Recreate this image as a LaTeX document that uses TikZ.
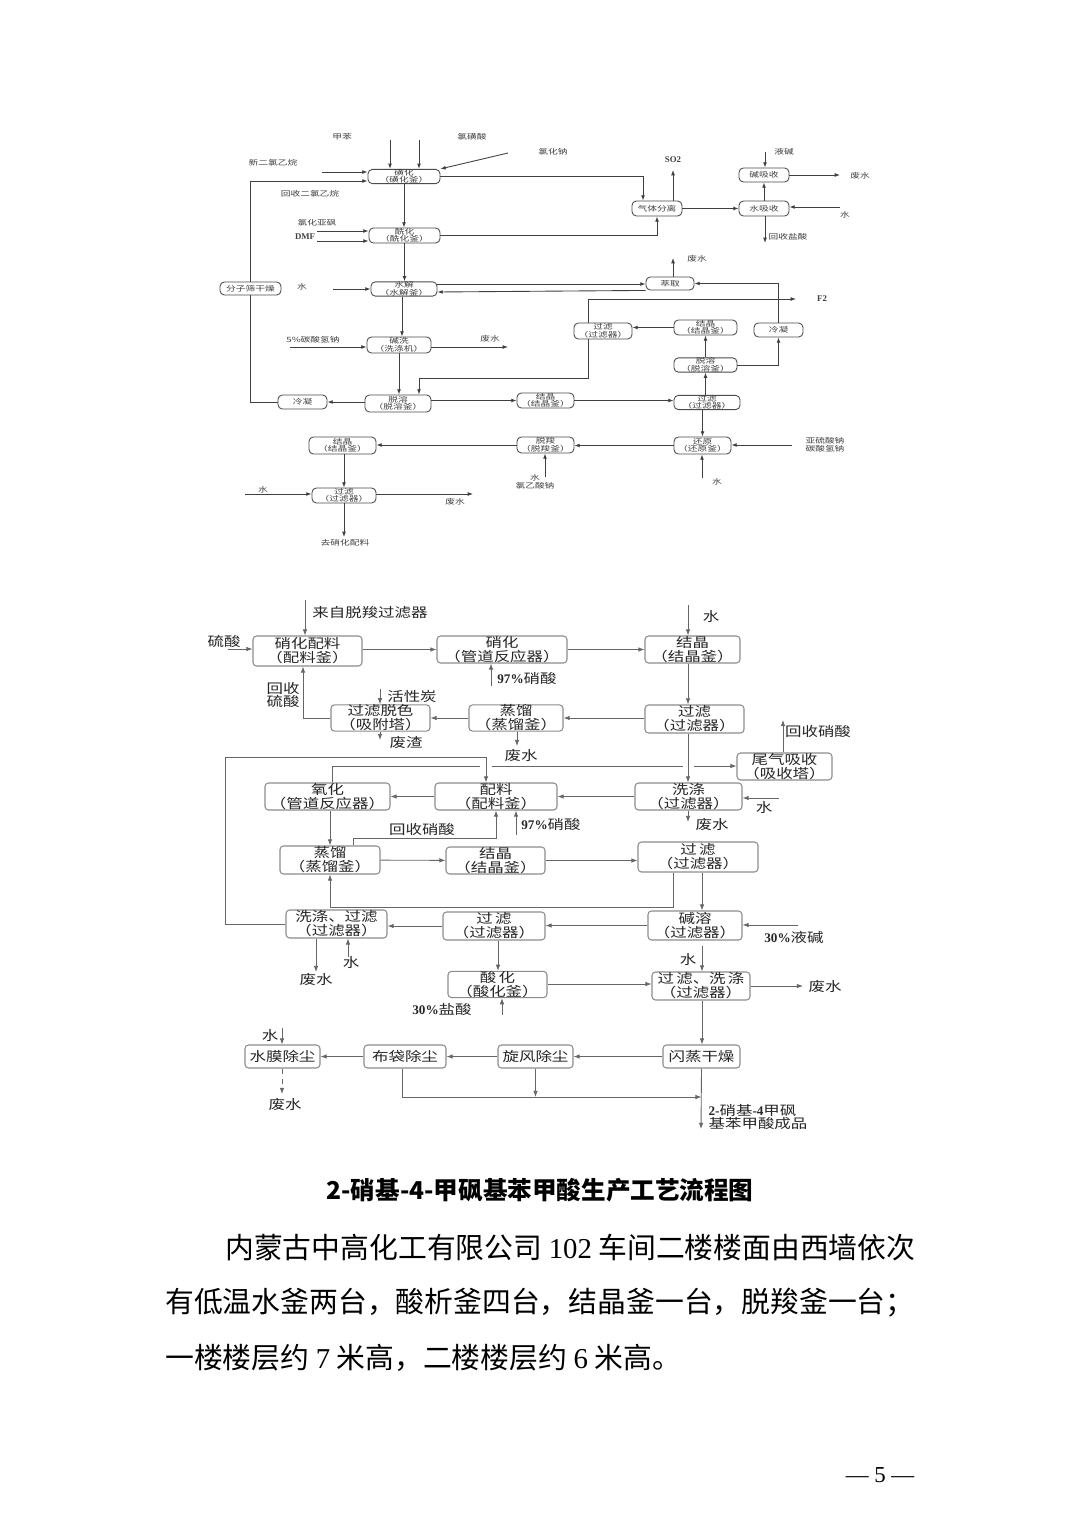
\documentclass[tikz,border=0pt]{standalone}
\usepackage{fontspec}
\usepackage{tikz}
\usetikzlibrary{arrows.meta}
\setmainfont{Noto Sans CJK SC}
\newfontfamily\fwide{Noto Sans CJK SC}[FakeStretch=1.25]
\newfontfamily\ftiny{Noto Sans CJK SC}[FakeStretch=1.35]
\newfontfamily\fnum{Liberation Serif}
\newcommand{\ttxt}{\ftiny\fontsize{4.1}{4.3}\selectfont}
\newcommand{\ptxt}{\fwide\fontsize{7.5}{7.9}\selectfont}
\newcommand{\pnum}{\fnum\bfseries}
\newcommand{\tnum}{\fnum\bfseries\fontsize{5}{5}\selectfont}
\newcommand{\fcap}{\bfseries\fontsize{14}{14}\selectfont}
\newcommand{\fbodytxt}{\fontsize{16.4}{16.4}\selectfont}
\tikzset{
  wh/.style 2 args={minimum width=#1*0.02cm,minimum height=#2*0.02cm},
  tbox/.style={draw=black!70,rounded corners=2.5pt,line width=0.5pt,inner sep=0pt,align=center,font=\ttxt,text=black!75},
  tlab/.style={inner sep=0pt,align=center,font=\ttxt,text=black!75},
  tarr/.style={-{Latex[length=3pt,width=2.2pt]},line width=0.5pt,draw=black!75},
  tln/.style={line width=0.5pt,draw=black!75},
  pbox/.style={draw=black!45,rounded corners=2pt,line width=0.6pt,inner sep=0pt,align=center,font=\ptxt,text=black!85},
  plab/.style={inner sep=0pt,align=center,font=\ptxt,text=black!85},
  parr/.style={-{Latex[length=3.5pt,width=2.6pt]},line width=0.5pt,draw=black!60}
}
\begin{document}
\begin{tikzpicture}[x=0.02cm,y=-0.02cm]
  \useasboundingbox (0,0) rectangle (1080,1527);
  \fill[white] (0,0) rectangle (1080,1527);

  % upper chart
  \node[tbox,wh={72}{13}] (sulf) at (404,176.5) {磺化\\（磺化釜）};
  \node[tbox,wh={71}{15}] (acyl) at (404.5,235.5) {酰化\\（酰化釜）};
  \node[tbox,wh={50}{15}] (gassep) at (657,208.5) {气体分离};
  \node[tbox,wh={50}{14}] (alkabs) at (764,175) {碱吸收};
  \node[tbox,wh={50}{15}] (watabs) at (764,208.5) {水吸收};
  \node[tbox,wh={61}{13}] (sieve) at (250.5,288.5) {分子筛干燥};
  \node[tbox,wh={66}{14}] (hydro) at (404,289) {水解\\（水解釜）};
  \node[tbox,wh={48}{13}] (extr) at (670,283.5) {萃取};
  \node[tbox,wh={58}{16}] (filtA) at (603,331) {过滤\\（过滤器）};
  \node[tbox,wh={63}{15}] (crysA) at (705.5,327.5) {结晶\\（结晶釜）};
  \node[tbox,wh={49}{14}] (condR) at (778.5,330) {冷凝};
  \node[tbox,wh={63}{14}] (desolR) at (705.5,365) {脱溶\\（脱溶釜）};
  \node[tbox,wh={64}{16}] (wash) at (399,345) {碱洗\\（洗涤机）};
  \node[tbox,wh={66}{17}] (desolL) at (398,403.5) {脱溶\\（脱溶釜）};
  \node[tbox,wh={49}{14}] (condL) at (302.5,402) {冷凝};
  \node[tbox,wh={57}{15}] (crysB) at (545.5,400.5) {结晶\\（结晶釜）};
  \node[tbox,wh={66}{14}] (filtB) at (707,402.5) {过滤\\（过滤器）};
  \node[tbox,wh={57}{17}] (reduc) at (702.5,445.5) {还原\\（还原釜）};
  \node[tbox,wh={57}{16}] (decarb) at (545.5,445) {脱羧\\（脱羧釜）};
  \node[tbox,wh={67}{17}] (crysC) at (342.5,445.5) {结晶\\（结晶釜）};
  \node[tbox,wh={64}{15}] (filtC) at (344,495.5) {过滤\\（过滤器）};

  \node[tlab] (l_tol) at (342,137) {甲苯};
  \node[tlab] (l_csa) at (472,137) {氯磺酸};
  \node[tlab] (l_nacl) at (553,152) {氯化钠};
  \node[tlab] (l_newdce) at (273,163) {新二氯乙烷};
  \node[tlab] (l_recdce) at (310,194) {回收二氯乙烷};
  \node[tlab] (l_socl) at (317,223) {氯化亚砜};
  \node[tlab,font=\tnum] (l_dmf) at (305,237) {DMF};
  \node[tlab,font=\tnum] (l_so2) at (673,160) {SO2};
  \node[tlab] (l_lye) at (784,152) {液碱};
  \node[tlab] (l_ww1) at (860,176) {废水};
  \node[tlab] (l_w1) at (845,215) {水};
  \node[tlab] (l_hcl) at (788,237) {回收盐酸};
  \node[tlab] (l_ww2) at (697,259) {废水};
  \node[tlab,font=\tnum] (l_f2) at (822,299) {F2};
  \node[tlab] (l_w2) at (302,287) {水};
  \node[tlab] (l_nahco) at (313,340) {5\%碳酸氢钠};
  \node[tlab] (l_ww3) at (490,339) {废水};
  \node[tlab] (l_red) at (825,445) {亚硫酸钠\\碳酸氢钠};
  \node[tlab] (l_w3) at (717,482) {水};
  \node[tlab] (l_clac) at (535,482) {水\\氯乙酸钠};
  \node[tlab] (l_w4) at (263,490) {水};
  \node[tlab] (l_ww4) at (455,502) {废水};
  \node[tlab] (l_tonitr) at (345,543) {去硝化配料};

  \coordinate (c_tol) at (390,140);
  \coordinate (c_csa) at (419,140);
  \coordinate (c_nacl) at (508,153);
  \coordinate (c_newdce) at (322,172);
  \coordinate (c_socl) at (317,231);
  \coordinate (c_dmf) at (317,241);
  \coordinate (c_so2) at (673,170);
  \coordinate (c_lye) at (765,152);
  \coordinate (c_ww1) at (840,175);
  \coordinate (c_w1) at (840,207);
  \coordinate (c_hcl) at (765,243);
  \coordinate (c_ww2) at (673,258);
  \coordinate (c_f2) at (796,299);
  \coordinate (c_w2) at (333,289);
  \coordinate (c_nahco) at (290,347);
  \coordinate (c_ww3) at (508,347);
  \coordinate (c_red) at (792,445);
  \coordinate (c_w3) at (702,478);
  \coordinate (c_clac) at (545,477);
  \coordinate (c_w4) at (245,494);
  \coordinate (c_ww4) at (473,494);
  \coordinate (c_tonitr) at (344,537);

  \draw[tarr] (c_tol) -- (sulf.north -| c_tol);
  \draw[tarr] (c_csa) -- (sulf.north -| c_csa);
  \draw[tarr] (c_nacl) -- (sulf.north east);
  \draw[tarr] (c_newdce) -- (sulf.west |- c_newdce);
  \draw[tarr] (sieve.north) |- (sulf.west |- 0,181);
  \draw[tarr] (sulf.east) -- (sulf.east -| 643,0) -- (gassep.north -| 643,0);
  \draw[tarr] (sulf.south) -- (sulf.south |- acyl.north);
  \draw[tarr] (c_socl) -- (acyl.west |- c_socl);
  \draw[tarr] (c_dmf) -- (acyl.west |- c_dmf);
  \draw[tarr] (acyl.east) -| (gassep.south);
  \draw[tarr] (gassep.north -| c_so2) -- (c_so2);
  \draw[tarr] (gassep) -- (watabs);
  \draw[tarr] (c_lye) -- (alkabs.north -| c_lye);
  \draw[tarr] (alkabs.east) -- (c_ww1);
  \draw[tarr] (c_w1) -- (watabs.east |- c_w1);
  \draw[tarr] (watabs) -- (alkabs);
  \draw[tarr] (watabs.south -| c_hcl) -- (c_hcl);
  \draw[tarr] (acyl.south) -- (acyl.south |- hydro.north);
  \draw[tarr] (c_w2) -- (hydro.west |- c_w2);
  \draw[tarr] (hydro.east |- 0,284) -- (extr.west |- 0,284);
  \draw[tarr] (extr.south west) -- (hydro.east |- 0,292);
  \draw[tarr] (extr.north -| c_ww2) -- (c_ww2);
  \draw[tarr] (condR.north) |- (extr.east);
  \draw[tarr] (desolR.east) -| (condR.south);
  \draw[tarr] (desolR) -- (crysA);
  \draw[tarr] (crysA.west) -- (filtA.east |- crysA.west);
  \draw[tarr] (filtA.north -| 588,0) |- (c_f2);
  \draw[tarr] (filtA.south -| 588,0) |- (419,378) -- (desolL.north -| 419,0);
  \draw[tarr] (hydro.south -| 402,0) -- (wash.north -| 402,0);
  \draw[tarr] (c_nahco) -- (wash.west |- c_nahco);
  \draw[tarr] (wash.east |- c_ww3) -- (c_ww3);
  \draw[tarr] (wash.south) -- (wash.south |- desolL.north);
  \draw[tarr] (desolL.west |- condL.east) -- (condL.east);
  \draw[tln] (condL.west) -| (sieve.south);
  \draw[tarr] (desolL.east |- crysB.west) -- (crysB.west);
  \draw[tarr] (crysB.east) -- (filtB.west |- crysB.east);
  \draw[tarr] (filtB.north -| desolR.south) -- (desolR.south);
  \draw[tarr] (filtB.south -| reduc.north) -- (reduc.north);
  \draw[tarr] (c_red) -- (reduc.east |- c_red);
  \draw[tarr] (c_w3) -- (reduc.south -| c_w3);
  \draw[tarr] (reduc.west) -- (decarb.east |- reduc.west);
  \draw[tarr] (c_clac) -- (decarb.south -| c_clac);
  \draw[tarr] (decarb.west) -- (crysC.east |- decarb.west);
  \draw[tarr] (crysC.south -| filtC.north) -- (filtC.north);
  \draw[tarr] (c_w4) -- (filtC.west |- c_w4);
  \draw[tarr] (filtC.east |- c_ww4) -- (c_ww4);
  \draw[tarr] (filtC.south) -- (c_tonitr);

  % lower chart
  \node[pbox,wh={109}{30}] (nmix) at (307.5,651) {硝化配料\\（配料釜）};
  \node[pbox,wh={130}{27}] (nitr) at (502,649.5) {硝化\\（管道反应器）};
  \node[pbox,wh={95}{27}] (crys1) at (692.5,649.5) {结晶\\（结晶釜）};
  \node[pbox,wh={99}{26}] (decol) at (380.5,718) {过滤脱色\\（吸附塔）};
  \node[pbox,wh={94}{26}] (dist1) at (516,718) {蒸馏\\（蒸馏釜）};
  \node[pbox,wh={99}{28}] (filt1) at (694.5,719) {过滤\\（过滤器）};
  \node[pbox,wh={95}{27}] (tail) at (784.5,766.5) {尾气吸收\\（吸收塔）};
  \node[pbox,wh={125}{27}] (oxid) at (327.5,796.5) {氧化\\（管道反应器）};
  \node[pbox,wh={122}{27}] (mix2) at (496,796.5) {配料\\（配料釜）};
  \node[pbox,wh={107}{27}] (wash1) at (688.5,796.5) {洗涤\\（过滤器）};
  \node[pbox,wh={100}{28}] (dist2) at (330,860) {蒸馏\\（蒸馏釜）};
  \node[pbox,wh={99}{27}] (crys2) at (495.5,860.5) {结晶\\（结晶釜）};
  \node[pbox,wh={120}{30}] (filt2) at (698,857) {过\,滤\\（过滤器）};
  \node[pbox,wh={101}{28}] (wfilt) at (336.5,924) {洗涤、过滤\\（过滤器）};
  \node[pbox,wh={102}{28}] (filt3) at (494,926) {过\,滤\\（过滤器）};
  \node[pbox,wh={94}{29}] (alkd) at (695,925.5) {碱溶\\（过滤器）};
  \node[pbox,wh={99}{25}] (acid) at (497.5,984.5) {酸\,化\\（酸化釜）};
  \node[pbox,wh={98}{28}] (fwash) at (701,986) {过\,滤、洗\,涤\\（过滤器）};
  \node[pbox,wh={77}{23}] (flash) at (701.5,1056.5) {闪蒸干燥};
  \node[pbox,wh={75}{23}] (cyclo) at (535.5,1056.5) {旋风除尘};
  \node[pbox,wh={82}{23}] (bag) at (405,1056.5) {布袋除尘};
  \node[pbox,wh={75}{23}] (film) at (282.5,1056.5) {水膜除尘};

  \node[plab] (l_from) at (370,612) {来自脱羧过滤器};
  \node[plab] (l_h2so4) at (224,641) {硫酸};
  \node[plab] (l_w5) at (711,617) {水};
  \node[plab] (l_hno1) at (527,678) {{\pnum 97\%}硝酸};
  \node[plab] (l_rech2so4) at (283,695) {回收\\硫酸};
  \node[plab] (l_carbon) at (412,697) {活性炭};
  \node[plab] (l_slag) at (406,742) {废渣};
  \node[plab] (l_ww5) at (521,755) {废水};
  \node[plab] (l_rechno1) at (818,731) {回收硝酸};
  \node[plab] (l_w6) at (764,808) {水};
  \node[plab] (l_ww6) at (712,824) {废水};
  \node[plab] (l_hno2) at (551,824) {{\pnum 97\%}硝酸};
  \node[plab] (l_rechno2) at (422,829) {回收硝酸};
  \node[plab] (l_lye2) at (794,937) {{\pnum 30\%}液碱};
  \node[plab] (l_ww7) at (316,979) {废水};
  \node[plab] (l_w7) at (351,963) {水};
  \node[plab] (l_w8) at (688,960) {水};
  \node[plab] (l_ww8) at (825,986) {废水};
  \node[plab] (l_hcl2) at (442,1009) {{\pnum 30\%}盐酸};
  \node[plab] (l_w9) at (270,1036) {水};
  \node[plab] (l_ww9) at (285,1104) {废水};
  \node[plab,align=left] (l_prod) at (758,1117) {{\pnum 2-}硝基{\pnum -4}甲砜\\基苯甲酸成品};

  \coordinate (c_from) at (305,600);
  \coordinate (c_h2so4) at (228,649);
  \coordinate (c_w5) at (688,605);
  \coordinate (c_hno1) at (491,686);
  \coordinate (c_carbon) at (380,689);
  \coordinate (c_slag) at (380,740);
  \coordinate (c_ww5) at (517,746);
  \coordinate (c_rechno1) at (783,720);
  \coordinate (c_w6) at (779,798);
  \coordinate (c_ww6) at (688,822);
  \coordinate (c_hno2) at (516,835);
  \coordinate (c_lye2) at (798,925);
  \coordinate (c_ww7) at (316,972);
  \coordinate (c_w7) at (348,957);
  \coordinate (c_w8) at (702,946);
  \coordinate (c_ww8) at (803,986);
  \coordinate (c_hcl2) at (502,1015);
  \coordinate (c_w9) at (282,1028);
  \coordinate (c_ww9) at (282,1094);
  \coordinate (c_prod) at (701,1129);

  \draw[parr] (c_from) -- (nmix.north -| c_from);
  \draw[parr] (c_h2so4) -- (nmix.west |- c_h2so4);
  \draw[parr] (nmix.east |- nitr.west) -- (nitr.west);
  \draw[parr] (nitr) -- (crys1);
  \draw[parr] (c_w5) -- (crys1.north -| c_w5);
  \draw[parr] (c_hno1) -- (nitr.south -| c_hno1);
  \draw[parr] (crys1.south -| 688,0) -- (filt1.north -| 688,0);
  \draw[parr] (filt1.west |- dist1.east) -- (dist1.east);
  \draw[parr] (dist1.west) -- (decol.east);
  \draw[parr] (c_carbon) -- (decol.north -| c_carbon);
  \draw[parr] (decol.south -| c_slag) -- (c_slag);
  \draw[parr] (dist1.south -| c_ww5) -- (c_ww5);
  \draw[parr] (decol.west) -| (nmix.south -| 303,0);
  \draw[parr] (filt1.south -| 688,0) -- (wash1.north -| 688,0);
  \draw[parr] (tail.north -| c_rechno1) -- (c_rechno1);
  \draw[parr] (oxid.north -| 332,0) |- (480,766) (492,766) -- (683,766) (694,766) -- (tail.west |- 0,766);
  \draw[parr] (wfilt.west) -| (225,757) -| (mix2.north -| 486,0);
  \draw[parr] (c_w6) -- (wash1.east |- c_w6);
  \draw[parr] (wash1.south -| c_ww6) -- (c_ww6);
  \draw[parr] (wash1) -- (mix2);
  \draw[parr] (mix2) -- (oxid);
  \draw[parr] (c_hno2) -- (mix2.south -| c_hno2);
  \draw[parr] (oxid.south -| 330,0) -- (dist2.north -| 330,0);
  \draw[parr] (dist2.north -| 353,0) |- (mix2.south |- 0,838) -- (mix2.south);
  \draw[parr] (dist2) -- (crys2);
  \draw[parr] (crys2.east) -- (filt2.west |- crys2.east);
  \draw[parr] (filt2.south -| 673,0) |- (dist2.south |- 0,907) -- (dist2.south);
  \draw[parr] (filt2.south -| 702,0) -- (alkd.north -| 702,0);
  \draw[parr] (c_lye2) -- (alkd.east |- c_lye2);
  \draw[parr] (alkd.west) -- (filt3.east |- alkd.west);
  \draw[parr] (filt3.west) -- (wfilt.east |- filt3.west);
  \draw[parr] (wfilt.south -| c_ww7) -- (c_ww7);
  \draw[parr] (c_w7) -- (wfilt.south -| c_w7);
  \draw[parr] (filt3.south -| 498,0) -- (acid.north -| 498,0);
  \draw[parr] (c_w8) -- (fwash.north -| c_w8);
  \draw[parr] (acid.east |- 0,984) -- (fwash.west |- 0,984);
  \draw[parr] (fwash.east) -- (c_ww8);
  \draw[parr] (c_hcl2) -- (acid.south -| c_hcl2);
  \draw[parr] (fwash.south -| 702,0) -- (flash.north -| 702,0);
  \draw[parr] (flash) -- (cyclo);
  \draw[parr] (cyclo) -- (bag);
  \draw[parr] (bag) -- (film);
  \draw[parr] (c_w9) -- (film.north -| c_w9);
  \draw[parr,dashed] (film.south -| c_ww9) -- (c_ww9);
  \draw[parr] (bag.south -| 402,0) |- (flash.south |- 0,1097);
  \draw[parr] (cyclo.south) -- (cyclo.south |- 0,1097);
  \draw[parr] (flash.south) -- (c_prod);

  % caption and page text
  \node[font=\fcap,inner sep=0pt] (caption) at (540,1190) {2-硝基-4-甲砜基苯甲酸生产工艺流程图};
  \node[anchor=west,font=\fbodytxt,inner sep=0pt] (body1) at (225,1248) {内蒙古中高化工有限公司 {\fnum 102} 车间二楼楼面由西墙依次};
  \node[anchor=west,font=\fbodytxt,inner sep=0pt] (body2) at (165,1303) {有低温水釜两台，酸析釜四台，结晶釜一台，脱羧釜一台；};
  \node[anchor=west,font=\fbodytxt,inner sep=0pt] (body3) at (165,1358) {一楼楼层约 {\fnum 7} 米高，二楼楼层约 {\fnum 6} 米高。};
  \node[font=\fnum\fontsize{13}{13}\selectfont,inner sep=0pt] (pageno) at (880,1475) {— 5 —};
\end{tikzpicture}
\end{document}
